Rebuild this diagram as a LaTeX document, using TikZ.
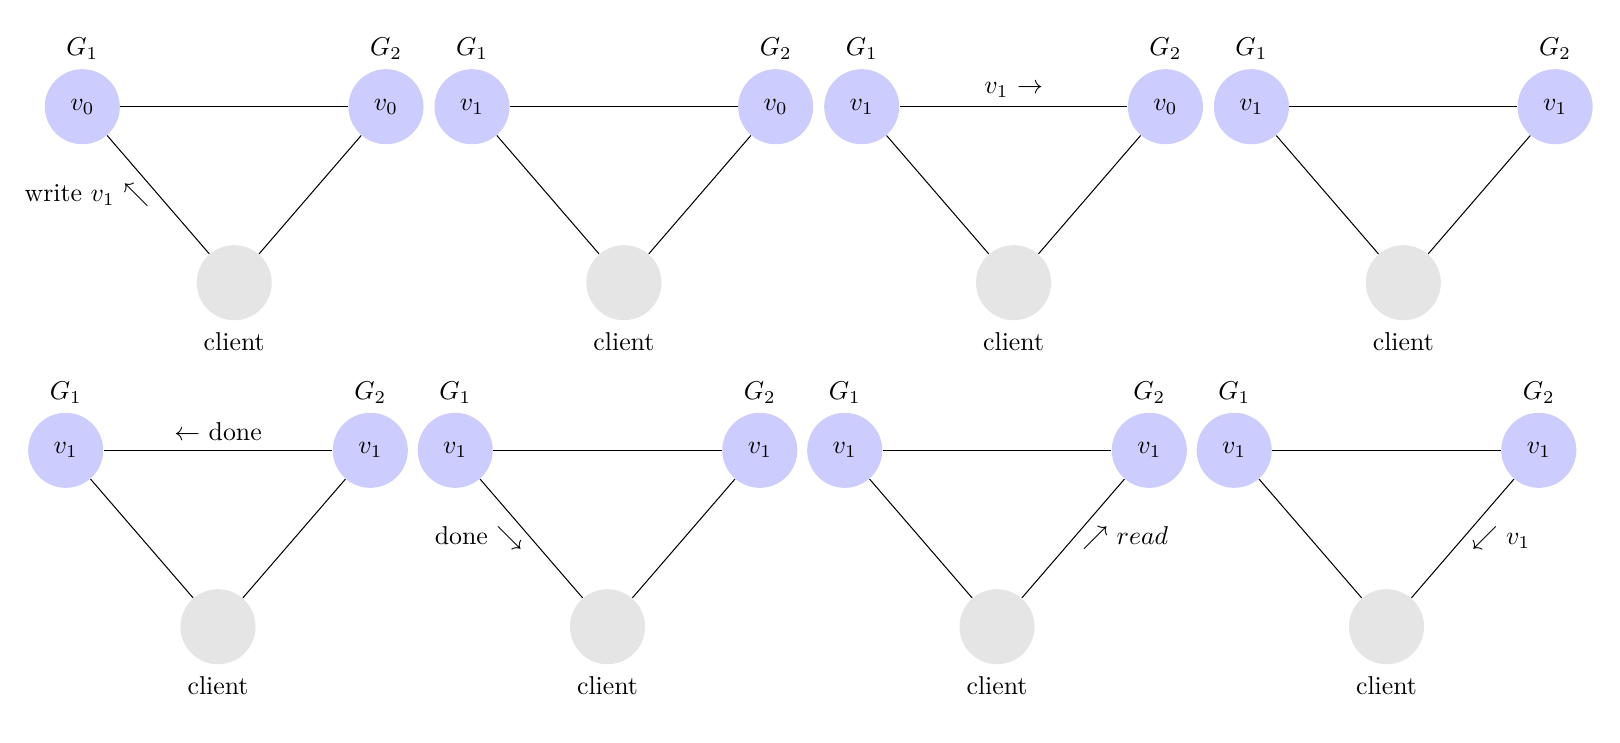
\documentclass[tikz,border=0pt]{standalone}
\begin{document}
\begin{tikzpicture}[x=0.3876pt,y=-0.3876pt,
  srv/.style={circle,fill=blue!20,minimum size=29.1pt,inner sep=0pt},
  cli/.style={circle,fill=black!10,minimum size=29.1pt,inner sep=0pt},
  link/.style={draw=black,line width=0.4pt}]
\useasboundingbox (0,0) rectangle (1620,742);
\foreach \i/\xa/\xb/\xc/\ya/\yc/\va/\vb in {
  1/82.3/386.0/234.2/106.7/282.7/v_0/v_0,
  2/472.0/775.7/623.9/106.7/282.7/v_1/v_0,
  3/861.7/1165.4/1013.6/106.7/282.7/v_1/v_0,
  4/1251.4/1555.1/1403.3/106.7/282.7/v_1/v_1,
  5/65.7/370.3/218.0/450.3/626.7/v_1/v_1,
  6/455.2/759.8/607.5/450.3/626.7/v_1/v_1,
  7/844.7/1149.3/997.0/450.3/626.7/v_1/v_1,
  8/1234.2/1538.8/1386.5/450.3/626.7/v_1/v_1}{
  \node[srv,label=above:$G_1$] (ga\i) at (\xa,\ya) {$\va$};
  \node[srv,label=above:$G_2$] (gb\i) at (\xb,\ya) {$\vb$};
  \node[cli,label={[label distance=1.2pt]below:client}] (c\i) at (\xc,\yc) {};
}
% panel 1
\draw[link] (ga1) -- (gb1);
\draw[link] (ga1) -- (c1) node[midway,left] {write $v_1$ $\nwarrow$};
\draw[link] (c1) -- (gb1);
% panel 2
\draw[link] (ga2) -- (gb2);
\draw[link] (ga2) -- (c2);
\draw[link] (c2) -- (gb2);
% panel 3
\draw[link] (ga3) -- (gb3) node[midway,above] {$v_1$ $\rightarrow$};
\draw[link] (ga3) -- (c3);
\draw[link] (c3) -- (gb3);
% panel 4
\draw[link] (ga4) -- (gb4);
\draw[link] (ga4) -- (c4);
\draw[link] (c4) -- (gb4);
% panel 5
\draw[link] (ga5) -- (gb5) node[midway,above] {$\leftarrow$ done};
\draw[link] (ga5) -- (c5);
\draw[link] (c5) -- (gb5);
% panel 6
\draw[link] (ga6) -- (gb6);
\draw[link] (ga6) -- (c6) node[midway,left] {done $\searrow$};
\draw[link] (c6) -- (gb6);
% panel 7
\draw[link] (ga7) -- (gb7);
\draw[link] (ga7) -- (c7);
\draw[link] (c7) -- (gb7) node[midway,right] {$\nearrow$ $read$};
% panel 8
\draw[link] (ga8) -- (gb8);
\draw[link] (ga8) -- (c8);
\draw[link] (c8) -- (gb8) node[midway,right] {$\swarrow$ $v_1$};
\end{tikzpicture}
\end{document}
